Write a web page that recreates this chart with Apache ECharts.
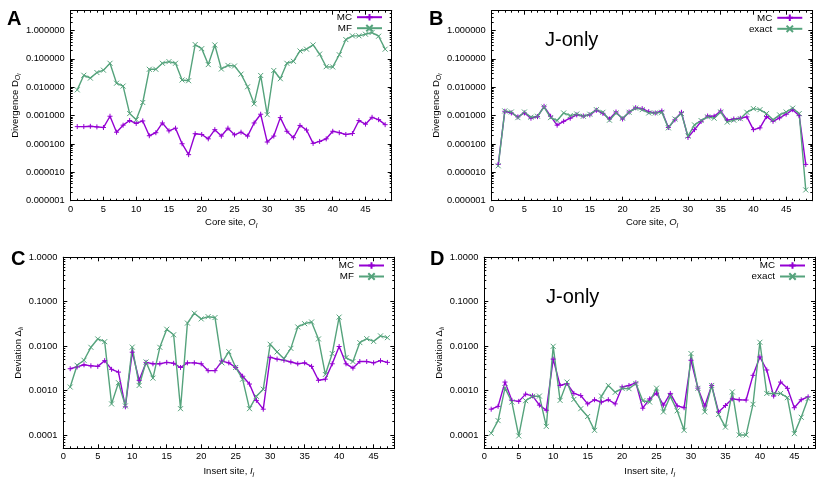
<!DOCTYPE html>
<html lang="en">
  <head>
    <meta charset="UTF-8" />
    <title>divergence-deviation</title>
    <style>
      body {
        margin: 0;
      }
      #chart {
        width: 830px;
        height: 485px;
      }
    </style>
    <script src="https://cdn.jsdelivr.net/npm/echarts@6.0.0/dist/echarts.min.js"></script>
  </head>
  <body>
    <div id="chart"></div>

    <script>
      // sites
      const coreSites = [1, 2, 3, 4, 5, 6, 7, 8, 9, 10, 11, 12, 13, 14, 15, 16, 17, 18, 19, 20, 21, 22, 23, 24,
        25, 26, 27, 28, 29, 30, 31, 32, 33, 34, 35, 36, 37, 38, 39, 40, 41, 42, 43, 44, 45, 46, 47, 48];
      const insertSites = [1, 2, 3, 4, 5, 6, 7, 8, 9, 10, 11, 12, 13, 14, 15, 16, 17, 18, 19, 20, 21, 22, 23, 24,
        25, 26, 27, 28, 29, 30, 31, 32, 33, 34, 35, 36, 37, 38, 39, 40, 41, 42, 43, 44, 45, 46, 47];

      // A: divergence, MC vs MF
      const aMC = [0.00041, 0.00041, 0.00042, 0.0004, 0.00038, 0.00095, 0.00026, 0.00046, 0.00067, 0.00053,
        0.00065, 0.000195, 0.00025, 0.00055, 0.00029, 0.00036, 0.000102, 0.000042, 0.00023, 0.000216,
        0.000152, 0.00032, 0.00019, 0.00036, 0.00021, 0.00026, 0.00019, 0.00055, 0.00112, 0.000117,
        0.00019, 0.00085, 0.00028, 0.000166, 0.00045, 0.00031, 0.000105, 0.000123, 0.000152, 0.00028,
        0.00025, 0.000216, 0.000234, 0.00067, 0.0005, 0.00087, 0.00072, 0.00048];
      const aMF = [0.0081, 0.0265, 0.021, 0.033, 0.04, 0.07, 0.0139, 0.011, 0.00118, 0.00072,
        0.0029, 0.043, 0.043, 0.07, 0.08, 0.07, 0.018, 0.017, 0.32, 0.23,
        0.063, 0.31, 0.044, 0.059, 0.056, 0.029, 0.0104, 0.0026, 0.026, 0.00108,
        0.039, 0.02, 0.07, 0.082, 0.19, 0.22, 0.31, 0.148, 0.053, 0.052,
        0.14, 0.48, 0.65, 0.65, 0.74, 0.85, 0.63, 0.22];

      // B: divergence, MC vs exact (J-only)
      const bMC = [0.000019, 0.00142, 0.00124, 0.0009, 0.00124, 0.00081, 0.00092, 0.00213, 0.00095, 0.00046,
        0.00063, 0.00081, 0.00106, 0.00097, 0.00106, 0.00154, 0.0012, 0.00076, 0.00134, 0.00076,
        0.00134, 0.0019, 0.00176, 0.00138, 0.00124, 0.00146, 0.00038, 0.00071, 0.00131, 0.00017,
        0.00032, 0.00062, 0.00097, 0.00095, 0.00146, 0.00069, 0.00076, 0.00081, 0.0009, 0.00032,
        0.00037, 0.00092, 0.00063, 0.00083, 0.00112, 0.00162, 0.001, 0.000019];
      const bExact = [0.000017, 0.00146, 0.00134, 0.00085, 0.00134, 0.00088, 0.00095, 0.002, 0.00085, 0.00067,
        0.00124, 0.001, 0.00114, 0.00095, 0.00112, 0.00162, 0.00131, 0.00069, 0.00124, 0.00081,
        0.00131, 0.00183, 0.00162, 0.00124, 0.00124, 0.00131, 0.00037, 0.00076, 0.00118, 0.00019,
        0.00047, 0.00067, 0.0009, 0.00081, 0.00134, 0.00059, 0.00069, 0.00078, 0.00131, 0.00176,
        0.00162, 0.00118, 0.00071, 0.00106, 0.00134, 0.00183, 0.00118, 0.0000024];

      // C: deviation, MC vs MF
      const cMC = [0.0031, 0.0034, 0.0038, 0.0036, 0.0035, 0.0047, 0.003, 0.0026, 0.00043, 0.0073,
        0.0017, 0.0043, 0.004, 0.004, 0.0043, 0.0041, 0.0033, 0.0042, 0.0042, 0.004,
        0.0028, 0.0028, 0.0046, 0.0042, 0.0033, 0.0021, 0.0014, 0.0006, 0.00038, 0.0056,
        0.0051, 0.0048, 0.0044, 0.004, 0.0042, 0.0035, 0.0017, 0.0018, 0.004, 0.0098,
        0.004, 0.0032, 0.0045, 0.0045, 0.0042, 0.0047, 0.0043];
      const cMF = [0.0012, 0.0037, 0.0048, 0.0094, 0.0145, 0.0126, 0.0005, 0.0015, 0.00045, 0.0095,
        0.0013, 0.0044, 0.0019, 0.0094, 0.024, 0.018, 0.00039, 0.033, 0.055, 0.041,
        0.046, 0.044, 0.0042, 0.0075, 0.0033, 0.0018, 0.00039, 0.00074, 0.00107, 0.011,
        0.0074, 0.0052, 0.0089, 0.027, 0.032, 0.035, 0.0145, 0.0023, 0.0068, 0.045,
        0.0055, 0.0045, 0.012, 0.0147, 0.0128, 0.017, 0.0155];

      // D: deviation, MC vs exact (J-only)
      const dMC = [0.00038, 0.00044, 0.00155, 0.0006, 0.00057, 0.00083, 0.00076, 0.00047, 0.00036, 0.0051,
        0.0013, 0.00144, 0.00086, 0.00077, 0.0005, 0.00062, 0.00055, 0.00062, 0.0005, 0.0012,
        0.0013, 0.00149, 0.0004, 0.00065, 0.00087, 0.00047, 0.00086, 0.00045, 0.00041, 0.0048,
        0.00113, 0.00045, 0.0013, 0.00033, 0.00046, 0.00065, 0.00062, 0.00061, 0.0022, 0.0057,
        0.0029, 0.00075, 0.00155, 0.00112, 0.00041, 0.00062, 0.00072];
      const dExact = [0.000109, 0.00021, 0.00115, 0.00055, 0.000095, 0.00059, 0.00074, 0.00075, 0.000156, 0.0099,
        0.0006, 0.00155, 0.00063, 0.00039, 0.00026, 0.000127, 0.00075, 0.0013, 0.00091, 0.00112,
        0.0011, 0.00144, 0.00059, 0.00055, 0.00113, 0.00033, 0.00074, 0.00035, 0.000127, 0.0068,
        0.00112, 0.00033, 0.0013, 0.00029, 0.00015, 0.00093, 0.0001, 0.0001, 0.00049, 0.0122,
        0.00086, 0.00086, 0.00086, 0.00069, 0.000107, 0.00025, 0.00066];

      // tick values
      const xTicks = [0, 5, 10, 15, 20, 25, 30, 35, 40, 45];
      const divergenceTicks = [0.000001, 0.00001, 0.0001, 0.001, 0.01, 0.1, 1];
      const deviationTicks = [0.0001, 0.001, 0.01, 0.1, 1];

      const purple = "#9400d3";
      const green = "#55a37c";
      const font = "'Liberation Sans', Arial, Helvetica, sans-serif";
      const plus = "path://M0,5L10,5M5,0L5,10";
      const cross = "path://M0,0L10,10M10,0L0,10";

      const panels = [
        {
          letter: "A", rect: [70.7, 10.7, 321, 190], xMax: 49, yRange: [0.000001, 5],
          sites: coreSites, series: [["MC", aMC, purple, plus], ["MF", aMF, green, cross]],
          yTicks: divergenceTicks, dec: 6,
          yName: "{t|Divergence D}{s|O}{ss|l}", yGap: 44,
          xName: "{t|Core site, }{i|O}{s|l}", xGap: 15,
          legend: [447, 12.2], letterPos: [7, 19],
        },
        {
          letter: "B", rect: [491.7, 10.7, 320.6, 190], xMax: 49, yRange: [0.000001, 5],
          sites: coreSites, series: [["MC", bMC, purple, plus], ["exact", bExact, green, cross]],
          yTicks: divergenceTicks, dec: 6,
          yName: "{t|Divergence D}{s|O}{ss|l}", yGap: 45,
          xName: "{t|Core site, }{i|O}{s|l}", xGap: 15,
          legend: [26.7, 12.8], letterPos: [429, 19], jOnly: [545, 41],
        },
        {
          letter: "C", rect: [63.3, 257.3, 331, 191], xMax: 48, yRange: [0.00005, 1],
          sites: insertSites, series: [["MC", cMC, purple, plus], ["MF", cMF, green, cross]],
          yTicks: deviationTicks, dec: 4,
          yName: "{t|Deviation Δ}{s|I}{ss|i}", yGap: 33,
          xName: "{t|Insert site, }{i|I}{s|i}", xGap: 16,
          legend: [445, 260.5], letterPos: [11, 259],
        },
        {
          letter: "D", rect: [484.3, 257.3, 330.7, 191], xMax: 48, yRange: [0.00005, 1],
          sites: insertSites, series: [["MC", dMC, purple, plus], ["exact", dExact, green, cross]],
          yTicks: deviationTicks, dec: 4,
          yName: "{t|Deviation Δ}{s|I}{ss|i}", yGap: 33.6,
          xName: "{t|Insert site, }{i|I}{s|i}", xGap: 16,
          legend: [24, 260.5], letterPos: [430, 259], jOnly: [546, 298],
        },
      ];

      const nameRich = {
        t: { fontSize: 9.5, lineHeight: 14, fontFamily: font, color: "#000" },
        i: { fontSize: 9.5, lineHeight: 14, fontFamily: font, fontStyle: "italic", color: "#000" },
        s: { fontSize: 7, lineHeight: 9, fontFamily: font, fontStyle: "italic", verticalAlign: "bottom", color: "#000" },
        ss: { fontSize: 5.5, lineHeight: 6, fontFamily: font, fontStyle: "italic", verticalAlign: "bottom", color: "#000" },
      };

      // log10 positions of the minor ticks (2..9 of each decade)
      function minorLogTicks(lo, hi) {
        const out = [];
        for (let d = Math.floor(lo); d <= Math.ceil(hi); d++) {
          for (let k = 1; k < 10; k++) {
            const v = d + Math.log10(k);
            if (v >= lo - 1e-9 && v <= hi + 1e-9) out.push(v);
          }
        }
        return out;
      }

      function unitTicks(max) {
        const out = [];
        for (let v = 0; v <= max; v++) out.push(v);
        return out;
      }

      const grid = [], xAxis = [], yAxis = [], series = [], legend = [], graphic = [];

      panels.forEach((p, gi) => {
        grid.push({
          left: p.rect[0], top: p.rect[1], width: p.rect[2], height: p.rect[3],
          containLabel: false, outerBoundsMode: "none",
        });
        const lo = Math.log10(p.yRange[0]);
        const hi = Math.log10(p.yRange[1]);
        const yMajor = p.yTicks.map((v) => Math.log10(v));
        const yMinor = minorLogTicks(lo, hi);
        const xMinor = unitTicks(p.xMax);

        const baseX = {
          gridIndex: gi, type: "value", min: 0, max: p.xMax,
          axisLine: { show: true, onZero: false, lineStyle: { color: "#000", width: 1 } },
          splitLine: { show: false },
          axisLabel: { show: false },
        };
        const xIndex = xAxis.length;
        ["bottom", "top"].forEach((pos) => {
          xAxis.push(Object.assign({}, baseX, {
            position: pos,
            axisTick: { inside: true, length: 4, customValues: xTicks, lineStyle: { color: "#000" } },
            axisLabel: pos === "bottom"
              ? { show: true, customValues: xTicks, margin: 4, fontSize: 9.3, fontFamily: font, color: "#000" }
              : { show: false },
            name: pos === "bottom" ? p.xName : "",
            nameLocation: "middle",
            nameGap: p.xGap,
            nameTextStyle: { rich: nameRich },
          }));
          xAxis.push(Object.assign({}, baseX, {
            position: pos,
            axisTick: { inside: true, length: 2, customValues: xMinor, lineStyle: { color: "#000" } },
          }));
        });

        const baseY = {
          gridIndex: gi, type: "value", min: lo, max: hi,
          axisLine: { show: true, onZero: false, lineStyle: { color: "#000", width: 1 } },
          splitLine: { show: false },
          axisLabel: { show: false },
        };
        const yIndex = yAxis.length;
        ["left", "right"].forEach((pos) => {
          yAxis.push(Object.assign({}, baseY, {
            position: pos,
            axisTick: { inside: true, length: 4, customValues: yMajor, lineStyle: { color: "#000" } },
            axisLabel: pos === "left"
              ? {
                  show: true, customValues: yMajor, margin: 6, fontSize: 9.3, fontFamily: font, color: "#000",
                  formatter: (v) => Math.pow(10, v).toFixed(p.dec),
                }
              : { show: false },
            name: pos === "left" ? p.yName : "",
            nameLocation: "middle",
            nameGap: p.yGap,
            nameTextStyle: { rich: nameRich },
          }));
          yAxis.push(Object.assign({}, baseY, {
            position: pos,
            axisTick: { inside: true, length: 2, customValues: yMinor, lineStyle: { color: "#000" } },
          }));
        });

        p.series.forEach(([name, values, color, symbol]) => {
          series.push({
            name: name,
            type: "line",
            xAxisIndex: xIndex,
            yAxisIndex: yIndex,
            data: p.sites.map((s, j) => [s, Math.log10(values[j])]),
            symbol: symbol,
            symbolSize: 5,
            showAllSymbol: true,
            lineStyle: { color: color, width: 1.4 },
            itemStyle: { color: color, borderColor: color, borderWidth: 1 },
            emphasis: { disabled: true },
            animation: false,
          });
        });

        legend.push({
          data: p.series.map((s) => s[0]),
          orient: "vertical",
          align: "right",
          right: p.legend[0],
          top: p.legend[1],
          padding: 0,
          itemWidth: 25,
          itemHeight: 8,
          itemGap: 1,
          selectedMode: false,
          textStyle: { fontSize: 9.8, fontFamily: font, color: "#000", padding: [0, 0, 0, 0] },
        });

        graphic.push({
          type: "text", left: p.letterPos[0], top: p.letterPos[1] - 10,
          style: { text: p.letter, font: "bold 20px " + font, fill: "#000" },
        });
        if (p.jOnly) {
          graphic.push({
            type: "text", left: p.jOnly[0], top: p.jOnly[1] - 11,
            style: { text: "J-only", font: "20px " + font, fill: "#000" },
          });
        }
      });

      const chart = echarts.init(document.getElementById("chart"));
      chart.setOption({
        animation: false,
        backgroundColor: "#fff",
        textStyle: { fontFamily: font },
        grid: grid,
        xAxis: xAxis,
        yAxis: yAxis,
        legend: legend,
        series: series,
        graphic: graphic,
      });
    </script>
  </body>
</html>
